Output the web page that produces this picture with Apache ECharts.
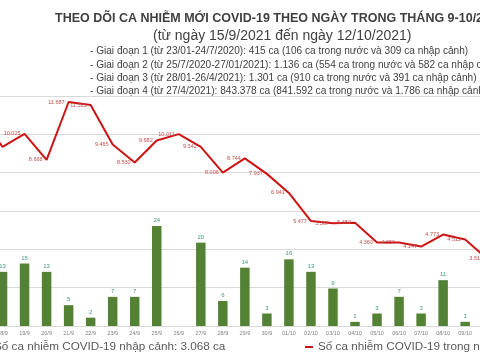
<!DOCTYPE html>
<html>
<head>
<meta charset="utf-8">
<script src="https://cdn.jsdelivr.net/npm/echarts@6/dist/echarts.min.js"></script>
<style>
html,body{margin:0;padding:0;background:#fff;overflow:hidden;width:480px;height:360px;}
#chart{position:absolute;left:-40px;top:0;width:560px;height:360px;}
</style>
</head>
<body>
<div id="chart"></div>
<script>
// ---- data ----
const categories = ['17/9','18/9','19/9','20/9','21/9','22/9','23/9','24/9','25/9','26/9','27/9','28/9','29/9','30/9',
  '01/10','02/10','03/10','04/10','05/10','06/10','07/10','08/10','09/10','10/10'];
const importedCases = [null,13,15,13,5,2,7,7,24,null,20,6,14,3,16,13,9,1,3,7,3,11,1,null];
const domesticCases = [11000,9340,10025,8668,11687,11525,9465,8530,9682,10011,9342,8006,8744,7937,6941,5477,5367,5382,4360,4356,4147,4773,4512,3513];
const importedName = 'Số ca nhiễm COVID-19 nhập cảnh: 3.068 ca';
const domesticName = 'Số ca nhiễm COVID-19 trong nước: 843.160 ca';
const titleText = 'THEO DÕI CA NHIỄM MỚI COVID-19 THEO NGÀY TRONG THÁNG 9-10/2021';
const subtitleText = '(từ ngày 15/9/2021 đến ngày 12/10/2021)';
const phaseLines = [
  '- Giai đoạn 1 (từ 23/01-24/7/2020): 415 ca (106 ca trong nước và 309 ca nhập cảnh)',
  '- Giai đoạn 2 (từ 25/7/2020-27/01/2021): 1.136 ca (554 ca trong nước và 582 ca nhập cảnh)',
  '- Giai đoạn 3 (từ 28/01-26/4/2021): 1.301 ca (910 ca trong nước và 391 ca nhập cảnh)',
  '- Giai đoạn 4 (từ 27/4/2021): 843.378 ca (841.592 ca trong nước và 1.786 ca nhập cảnh)'
];

function fmt(v){ return String(v).replace(/\B(?=(\d{3})+(?!\d))/g,'.'); }

const FONT = "'Liberation Sans', Arial, sans-serif";
const OX = 40; // canvas is shifted 40px to the left of the window

const titles = [
  {text:titleText, left:OX+50, top:7, textStyle:{fontSize:12.5, fontWeight:'bold', color:'#3f3f3f', fontFamily:FONT}},
  {text:subtitleText, left:OX+148, top:24, textStyle:{fontSize:14, fontWeight:'normal', color:'#3f3f3f', fontFamily:FONT}}
];
phaseLines.forEach((t,i)=>{
  titles.push({text:t, left:OX+85, top:41.5 + i*13.4, textStyle:{fontSize:10.1, fontWeight:'normal', color:'#3f3f3f', fontFamily:FONT}});
});

const chart = echarts.init(document.getElementById('chart'), null, {renderer:'canvas'});
chart.setOption({
  backgroundColor:'#ffffff',
  animation:false,
  title: titles,
  legend: [
    {data:[importedName], left:OX-19, top:341, itemWidth:8, itemHeight:8, icon:'rect', padding:0,
     textStyle:{fontSize:11.7, color:'#595959', fontFamily:FONT}},
    {data:[domesticName], left:OX+305, top:341, itemWidth:8, itemHeight:2, icon:'rect', padding:0,
     textStyle:{fontSize:11.7, color:'#595959', fontFamily:FONT}}
  ],
  grid:{left:OX-30.5, width:528.7, top:96, bottom:34, containLabel:false},
  xAxis:{
    type:'category', data:categories, boundaryGap:true,
    axisLine:{show:false}, axisTick:{show:false},
    axisLabel:{fontSize:5.5, color:'#7f7f7f', margin:4, interval:0, fontFamily:FONT}
  },
  yAxis:[
    {type:'value', min:0, max:12000, interval:2000, axisLabel:{show:false}, axisLine:{show:false}, axisTick:{show:false},
     splitLine:{show:true, lineStyle:{color:'#d9d9d9', width:1}}},
    {type:'value', min:0, max:55.2, axisLabel:{show:false}, axisLine:{show:false}, axisTick:{show:false}, splitLine:{show:false}}
  ],
  series:[
    {name:importedName, type:'bar', yAxisIndex:1, data:importedCases, barWidth:9.5,
     itemStyle:{color:'#548235'},
     label:{show:true, position:'top', distance:2.5, fontSize:6, color:'#3f9a7a', fontFamily:FONT}},
    {name:domesticName, type:'line', yAxisIndex:0, data:domesticCases, symbol:'circle', symbolSize:0.1, showSymbol:true,
     lineStyle:{color:'#cc1414', width:2}, itemStyle:{color:'#cc1414'},
     labelLayout:{hideOverlap:false},
     label:{show:true, position:'left', distance:4, fontSize:5.5, color:'#c0504d', fontFamily:FONT,
       formatter:p=>fmt(p.value)}}
  ]
});
</script>
</body>
</html>
